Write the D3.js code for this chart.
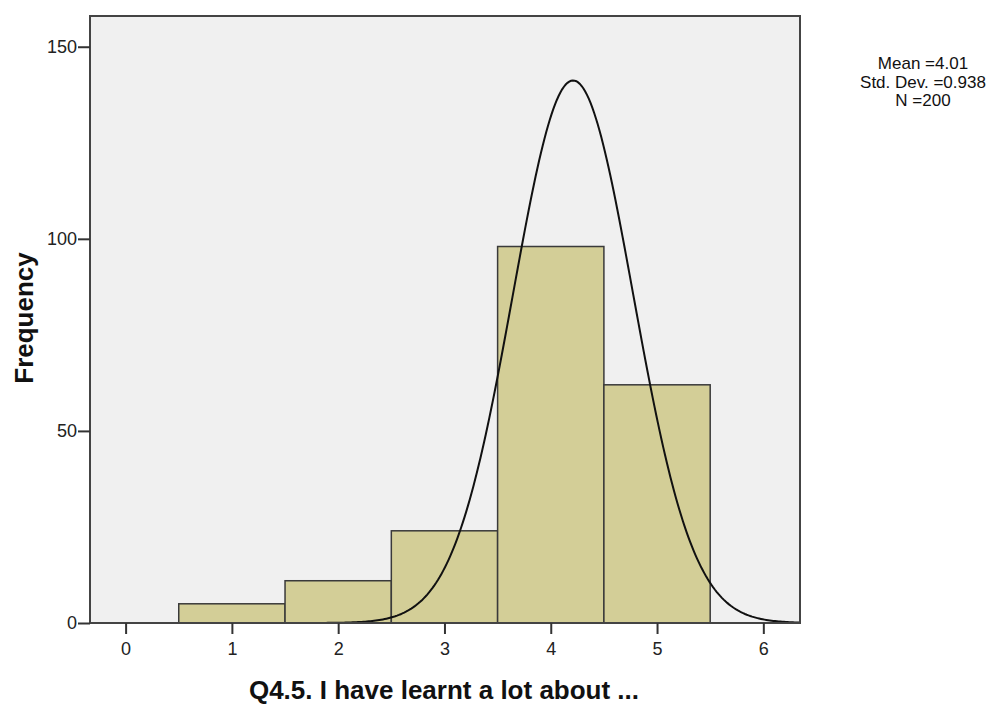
<!DOCTYPE html>
<html>
<head>
<meta charset="utf-8">
<script src="https://cdn.jsdelivr.net/npm/d3@7"></script>
<style>
  body { margin: 0; background: #fff; }
  svg { display: block; font-family: "Liberation Sans", Arial, sans-serif; }
</style>
</head>
<body>
<svg width="999" height="704"></svg>
<script>
// histogram bins (centre value) and their counts
var binCenters = [1, 2, 3, 4, 5];
var binCounts = [5, 11, 24, 98, 62];
var yTicks = [0, 50, 100, 150];
var xTicks = [0, 1, 2, 3, 4, 5, 6];
var statsLines = ["Mean =4.01", "Std. Dev. =0.938", "N =200"];

// normal curve as drawn in the picture
var curveMean = 4.21;
var curveSd = 0.565;
var curveN = 200;

var svg = d3.select("svg");

// plot frame (window.top is reserved, so use other names)
var plotL = 90, plotR = 800, plotT = 16, plotB = 623;

// x scale
var xScale = d3.scaleLinear()
    .domain([-0.335, 6.345])
    .range([plotL, plotR]);

// y scale
var yScale = d3.scaleLinear()
    .domain([0, 158])
    .range([plotB, plotT]);

// plot background
svg.append("rect")
    .attr("x", plotL)
    .attr("y", plotT)
    .attr("width", plotR - plotL)
    .attr("height", plotB - plotT)
    .attr("fill", "#f0f0f0");

// bars
svg.selectAll("rect.bar")
    .data(binCenters)
    .enter()
    .append("rect")
    .attr("class", "bar")
    .attr("x", function (d) { return xScale(d - 0.5); })
    .attr("y", function (d, i) { return yScale(binCounts[i]); })
    .attr("width", function (d) { return xScale(d + 0.5) - xScale(d - 0.5); })
    .attr("height", function (d, i) { return yScale(0) - yScale(binCounts[i]); })
    .attr("fill", "#d3ce97")
    .attr("stroke", "#3a3a3a")
    .attr("stroke-width", 1.5);

// normal curve
svg.append("clipPath").attr("id", "plotclip")
    .append("rect")
    .attr("x", plotL).attr("y", plotT)
    .attr("width", plotR - plotL).attr("height", plotB - plotT);

var curvePts = d3.range(0, 401).map(function (i) {
    var x = xScale.domain()[0] + (xScale.domain()[1] - xScale.domain()[0]) * i / 400;
    var z = (x - curveMean) / curveSd;
    return [x, curveN * Math.exp(-z * z / 2) / (curveSd * Math.sqrt(2 * Math.PI))];
});

svg.append("path")
    .datum(curvePts)
    .attr("clip-path", "url(#plotclip)")
    .attr("fill", "none")
    .attr("stroke", "#111")
    .attr("stroke-width", 2)
    .attr("d", d3.line()
        .x(function (d) { return xScale(d[0]); })
        .y(function (d) { return yScale(d[1]); }));

// frame
svg.append("rect")
    .attr("x", plotL)
    .attr("y", plotT)
    .attr("width", plotR - plotL)
    .attr("height", plotB - plotT)
    .attr("fill", "none")
    .attr("stroke", "#444")
    .attr("stroke-width", 2);

// axes
var yAxis = svg.append("g")
    .attr("transform", "translate(" + plotL + ",0)")
    .call(d3.axisLeft(yScale).tickValues(yTicks).tickFormat(d3.format("d")).tickSize(12).tickPadding(1));

var xAxis = svg.append("g")
    .attr("transform", "translate(0," + plotB + ")")
    .call(d3.axisBottom(xScale).tickValues(xTicks).tickFormat(d3.format("d")).tickSize(11).tickPadding(8));

[yAxis, xAxis].forEach(function (ax) {
    ax.select(".domain").remove();
    ax.selectAll("line").attr("stroke", "#333").attr("stroke-width", 2);
    ax.selectAll("text")
        .attr("fill", "#222")
        .style("font-size", "18px")
        .style("font-family", "Liberation Sans, Arial, sans-serif");
});

// axis titles
svg.append("text")
    .attr("x", 444)
    .attr("y", 699)
    .attr("text-anchor", "middle")
    .attr("font-weight", "bold")
    .attr("font-size", 26)
    .attr("fill", "#111")
    .text("Q4.5. I have learnt a lot about ...");

svg.append("text")
    .attr("transform", "translate(33,318) rotate(-90)")
    .attr("text-anchor", "middle")
    .attr("font-weight", "bold")
    .attr("font-size", 26)
    .attr("fill", "#111")
    .text("Frequency");

// stats box
svg.append("g")
    .selectAll("text")
    .data(statsLines)
    .enter()
    .append("text")
    .attr("x", 923)
    .attr("y", function (d, i) { return 69 + i * 18.5; })
    .attr("text-anchor", "middle")
    .attr("font-size", 17)
    .attr("fill", "#111")
    .text(function (d) { return d; });
</script>
</body>
</html>
